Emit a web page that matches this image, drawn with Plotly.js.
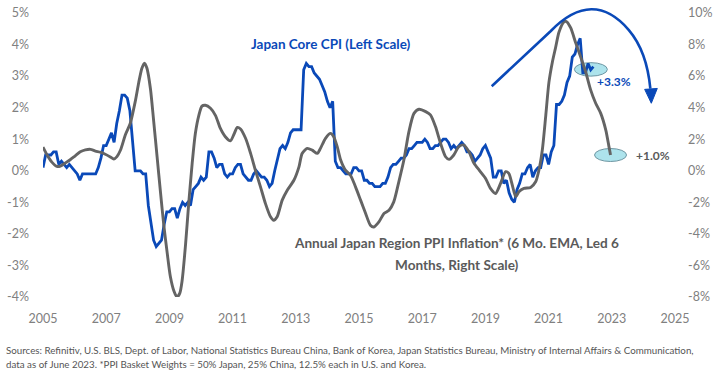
<!DOCTYPE html>
<html>
<head>
<meta charset="utf-8">
<script src="https://cdn.plot.ly/plotly-3.0.1.min.js"></script>
<style>
  html, body { margin: 0; padding: 0; background: #ffffff; }
  #chart { width: 720px; height: 376px; }
</style>
</head>
<body>
<div id="chart"></div>
<script>
// Japan core CPI, y/y %, monthly, first month plotted at 2005-01 (left scale)
const cpiStartYear = 2005;
const cpiValues = [
  0.1, 0.5, 0.5, 0.5, 0.6, 0.6, 0.2, 0.3, 0.2, 0.1, 0.2, 0.1,
  0.0, -0.1, -0.3, -0.1, -0.1, -0.1, -0.1, -0.1, -0.1, 0.1, 0.4, 0.8,
  0.8, 1.0, 1.2, 0.9, 1.5, 1.9, 2.4, 2.4, 2.3, 1.9, 1.0, 0.0,
  0.0, 0.0, -0.1, -0.1, -1.1, -1.7, -2.2, -2.4, -2.3, -2.2, -1.7, -1.3,
  -1.3, -1.2, -1.2, -1.5, -1.2, -1.0, -1.1, -1.0, -1.1, -0.6, -0.5, -0.4,
  -0.2, -0.3, -0.2, 0.6, 0.6, 0.4, 0.1, 0.2, 0.2, -0.1, -0.2, -0.1,
  -0.1, 0.1, 0.2, 0.2, -0.1, -0.2, -0.3, -0.3, -0.1, 0.0, -0.1, -0.2,
  -0.2, -0.3, -0.5, -0.4, 0.0, 0.4, 0.7, 0.8, 0.7, 0.9, 1.2, 1.3,
  1.3, 1.3, 1.3, 3.2, 3.4, 3.3, 3.3, 3.1, 3.0, 2.9, 2.7, 2.5,
  2.2, 2.0, 2.2, 0.3, 0.1, 0.1, 0.0, -0.1, -0.1, -0.1, 0.1, 0.1,
  0.0, 0.0, -0.3, -0.3, -0.4, -0.4, -0.5, -0.5, -0.5, -0.4, -0.4, -0.2,
  0.1, 0.2, 0.2, 0.3, 0.4, 0.4, 0.5, 0.7, 0.7, 0.8, 0.9, 0.9,
  0.9, 1.0, 0.9, 0.7, 0.7, 0.8, 0.8, 0.9, 1.0, 1.0, 0.9, 0.7,
  0.8, 0.7, 0.8, 0.9, 0.8, 0.6, 0.6, 0.5, 0.3, 0.4, 0.5, 0.7,
  0.8, 0.6, 0.4, -0.2, -0.2, 0.0, 0.0, -0.4, -0.3, -0.7, -0.9, -1.0,
  -0.6, -0.4, -0.1, -0.1, 0.1, 0.2, -0.2, 0.0, 0.1, 0.1, 0.5, 0.5,
  0.2, 0.6, 0.8, 2.1, 2.1, 2.2, 2.4, 2.8, 3.0, 3.6, 3.7, 4.0,
  4.2, 3.1, 3.1, 3.4, 3.2, 3.3
];

// Japan-region PPI inflation (6 mo. EMA, led 6 months), % (right scale)
const ppiYears = [
  2005.00, 2005.13, 2005.28, 2005.44, 2005.55, 2005.71, 2005.86,
  2006.02, 2006.18, 2006.34, 2006.50, 2006.66, 2006.81, 2006.97,
  2007.13, 2007.24, 2007.34, 2007.45, 2007.61, 2007.76, 2007.92,
  2008.03, 2008.13, 2008.21, 2008.29, 2008.40, 2008.50, 2008.61, 2008.72, 2008.82, 2008.93,
  2009.03, 2009.14, 2009.24, 2009.33, 2009.40, 2009.51, 2009.61, 2009.72, 2009.82, 2009.93,
  2010.03, 2010.14, 2010.30, 2010.46, 2010.61, 2010.77, 2010.93,
  2011.04, 2011.15, 2011.25, 2011.41, 2011.57, 2011.72, 2011.88,
  2012.04, 2012.20, 2012.30, 2012.41, 2012.57, 2012.73, 2012.94,
  2013.10, 2013.20, 2013.36, 2013.52, 2013.68, 2013.78, 2013.94,
  2014.10, 2014.20, 2014.31, 2014.42, 2014.57, 2014.73, 2014.89,
  2015.05, 2015.21, 2015.36, 2015.47, 2015.63, 2015.79, 2015.95,
  2016.10, 2016.26, 2016.42, 2016.58, 2016.74, 2016.90,
  2017.11, 2017.26, 2017.42, 2017.58, 2017.74, 2017.85,
  2018.00, 2018.16, 2018.32, 2018.48, 2018.64, 2018.82,
  2019.01, 2019.16, 2019.32, 2019.48, 2019.64, 2019.74, 2019.85, 2019.96,
  2020.06, 2020.22, 2020.43, 2020.59, 2020.69, 2020.80, 2020.91,
  2021.01, 2021.12, 2021.22, 2021.33, 2021.49, 2021.57, 2021.70, 2021.86,
  2022.01, 2022.17, 2022.33, 2022.49, 2022.65, 2022.81, 2022.91, 2022.96
];
const ppiValues = [
  1.5, 1.0, 0.55, 0.28, 0.3, 0.5, 0.7,
  0.95, 1.2, 1.32, 1.36, 1.25, 1.18, 1.05,
  0.88, 0.75, 0.9, 1.3, 2.3, 3.0, 4.4,
  5.6, 6.5, 6.82, 6.5, 5.2, 3.2, 0.9, -1.4, -3.4, -5.2,
  -6.7, -7.6, -8.0, -7.75, -7.0, -4.7, -2.1, 0.45, 2.35, 3.5,
  4.1, 4.15, 3.96, 3.5, 2.7, 2.16, 1.9,
  2.3, 2.75, 2.65, 2.06, 1.1, 0.04, -1.0,
  -2.08, -2.92, -3.14, -2.92, -1.86, -1.23, -0.6,
  0.25, 1.1, 1.42, 1.31, 1.1, 1.42, 2.06,
  2.37, 2.16, 1.53, 0.68, 0.04, -0.28, -1.02,
  -1.86, -2.71, -3.45, -3.56, -3.24, -2.71, -2.5,
  -1.97, -0.7, 0.68, 2.48, 3.64, 3.9,
  3.75, 3.54, 2.8, 1.74, 0.89, 0.72,
  1.0, 1.53, 1.63, 1.2, 0.47, 0.0,
  -0.5, -1.12, -1.44, -0.8, -0.06, -0.17, -0.9, -1.65,
  -1.33, -1.12, -1.06, -0.7, 0.0, 1.3, 3.5,
  5.6, 6.9, 7.8, 8.8, 9.45, 9.45, 9.05, 8.09,
  7.25, 6.29, 5.13, 4.28, 3.64, 2.58, 1.53, 1.0
];

// Axis ticks
const xTickVals = [2005, 2007, 2009, 2011, 2013, 2015, 2017, 2019, 2021, 2023, 2025];
const xTickText = ['2005', '2007', '2009', '2011', '2013', '2015', '2017', '2019', '2021', '2023', '2025'];
const leftTickVals = [-4, -3, -2, -1, 0, 1, 2, 3, 4, 5];
const leftTickText = ['-4%', '-3%', '-2%', '-1%', '0%', '1%', '2%', '3%', '4%', '5%'];
const rightTickVals = [-8, -6, -4, -2, 0, 2, 4, 6, 8, 10];
const rightTickText = ['-8%', '-6%', '-4%', '-2%', '0%', '2%', '4%', '6%', '8%', '10%'];

const X_RANGE = [2005, 2025];
const Y_RANGE = [-4, 5];
const Y2_RANGE = [-8, 10];

const BLUE = '#0a49b8';
const GREY = '#646464';
const TICK = '#808080';
const FONT = 'Lato, "Open Sans", sans-serif';
const NOTE_FONT = { family: 'Lato, "Open Sans", sans-serif', size: 9.75, color: '#555555' };

const cpiX = cpiValues.map((_, i) => cpiStartYear + i / 12);
const cpiLastX = cpiX[cpiX.length - 1];
const cpiLast = cpiValues[cpiValues.length - 1];
const ppiLastX = ppiYears[ppiYears.length - 1];
const ppiLast = ppiValues[ppiValues.length - 1];

const fmtSigned = v => (v >= 0 ? '+' : '') + v.toFixed(1) + '%';

// Convert (year, left-scale %) into paper fractions for the trend arrow
const px = yr => (yr - X_RANGE[0]) / (X_RANGE[1] - X_RANGE[0]);
const py = v => (v - Y_RANGE[0]) / (Y_RANGE[1] - Y_RANGE[0]);
const pt = (yr, v) => px(yr).toFixed(4) + ',' + py(v).toFixed(4);

// Trend arrow sweeping over the PPI peak
const arcPath =
  'M' + pt(2019.20, 2.68) +
  ' L' + pt(2021.07, 4.43) +
  ' Q' + pt(2022.40, 5.79) + ' ' + pt(2023.54, 4.46) +
  ' Q' + pt(2024.11, 3.79) + ' ' + pt(2024.22, 2.60);
const headPath =
  'M' + pt(2024.25, 2.14) +
  ' L' + pt(2024.04, 2.58) +
  ' L' + pt(2024.44, 2.61) + ' Z';

const traces = [
  {
    x: cpiX, y: cpiValues, type: 'scatter', mode: 'lines',
    name: 'Japan Core CPI', yaxis: 'y',
    line: { color: BLUE, width: 2.8 },
    hoverinfo: 'skip'
  },
  {
    x: ppiYears, y: ppiValues, type: 'scatter', mode: 'lines',
    name: 'Japan Region PPI', yaxis: 'y2',
    line: { color: GREY, width: 2.9, shape: 'spline', smoothing: 0.7 },
    hoverinfo: 'skip'
  }
];

const axisCommon = {
  showgrid: false, zeroline: false, showline: false, ticks: '',
  tickfont: { family: FONT, size: 12.5, color: TICK },
  fixedrange: true
};

const layout = {
  width: 720, height: 376,
  margin: { l: 43, r: 45, t: 13, b: 79, pad: 0 },
  paper_bgcolor: '#ffffff', plot_bgcolor: '#ffffff',
  showlegend: false,
  xaxis: Object.assign({}, axisCommon, {
    type: 'linear', range: X_RANGE,
    tickmode: 'array', tickvals: xTickVals, ticktext: xTickText,
    ticklabelstandoff: 12
  }),
  yaxis: Object.assign({}, axisCommon, {
    range: Y_RANGE, tickmode: 'array', tickvals: leftTickVals, ticktext: leftTickText,
    ticklabelstandoff: 13
  }),
  yaxis2: Object.assign({}, axisCommon, {
    overlaying: 'y', side: 'right', range: Y2_RANGE,
    tickmode: 'array', tickvals: rightTickVals, ticktext: rightTickText,
    ticklabelstandoff: 12
  }),
  shapes: [
    {
      type: 'circle', layer: 'below',
      xref: 'x', yref: 'y', xsizemode: 'pixel', ysizemode: 'pixel',
      xanchor: cpiLastX, yanchor: cpiLast,
      x0: -19, x1: 14, y0: -9.5, y1: 4,
      fillcolor: '#ade3ec', line: { color: '#6f97a3', width: 1 }
    },
    {
      type: 'circle', layer: 'below',
      xref: 'x', yref: 'y2', xsizemode: 'pixel', ysizemode: 'pixel',
      xanchor: ppiLastX, yanchor: ppiLast,
      x0: -16, x1: 16, y0: -6.5, y1: 6.5,
      fillcolor: '#ade3ec', line: { color: '#6f97a3', width: 1 }
    },
    {
      type: 'path', xref: 'paper', yref: 'paper', layer: 'above',
      path: arcPath, line: { color: BLUE, width: 2.6 }
    },
    {
      type: 'path', xref: 'paper', yref: 'paper', layer: 'above',
      path: headPath, fillcolor: BLUE, line: { color: BLUE, width: 1 }
    }
  ],
  annotations: [
    {
      xref: 'x', yref: 'y', x: 2014.11, y: 4.02, showarrow: false,
      text: '<b>Japan Core CPI (Left Scale)</b>',
      font: { family: FONT, size: 13.5, color: BLUE },
      xanchor: 'center', yanchor: 'middle'
    },
    {
      xref: 'x', yref: 'y', x: 2018.1, y: -2.30, showarrow: false,
      text: '<b>Annual Japan Region PPI Inflation* (6 Mo. EMA, Led 6</b>',
      font: { family: FONT, size: 13.6, color: '#5a5a5a' },
      xanchor: 'center', yanchor: 'middle'
    },
    {
      xref: 'x', yref: 'y', x: 2018.1, y: -2.97, showarrow: false,
      text: '<b>Months, Right Scale)</b>',
      font: { family: FONT, size: 13.6, color: '#5a5a5a' },
      xanchor: 'center', yanchor: 'middle'
    },
    {
      xref: 'x', yref: 'y', x: cpiLastX, y: cpiLast, showarrow: false,
      text: '<b>' + fmtSigned(cpiLast) + '</b>',
      font: { family: FONT, size: 12, color: BLUE },
      xanchor: 'left', yanchor: 'middle', xshift: 2, yshift: -15
    },
    {
      xref: 'x', yref: 'y2', x: ppiLastX, y: ppiLast, showarrow: false,
      text: '<b>' + fmtSigned(ppiLast) + '</b>',
      font: { family: FONT, size: 12, color: '#5a5a5a' },
      xanchor: 'left', yanchor: 'middle', xshift: 23, yshift: 0
    },
    {
      xref: 'paper', yref: 'paper', x: -0.062, y: -0.187, showarrow: false,
      text: 'Sources: Refinitiv, U.S. BLS, Dept. of Labor, National Statistics Bureau China, Bank of Korea, Japan Statistics Bureau, Ministry of Internal Affairs &amp; Communication,',
      font: NOTE_FONT,
      xanchor: 'left', yanchor: 'middle'
    },
    {
      xref: 'paper', yref: 'paper', x: -0.062, y: -0.236, showarrow: false,
      text: 'data as of June 2023. *PPI Basket Weights = 50% Japan, 25% China, 12.5% each in U.S. and Korea.',
      font: NOTE_FONT,
      xanchor: 'left', yanchor: 'middle'
    }
  ]
};

Plotly.newPlot('chart', traces, layout, { displayModeBar: false, staticPlot: true });
</script>
</body>
</html>
